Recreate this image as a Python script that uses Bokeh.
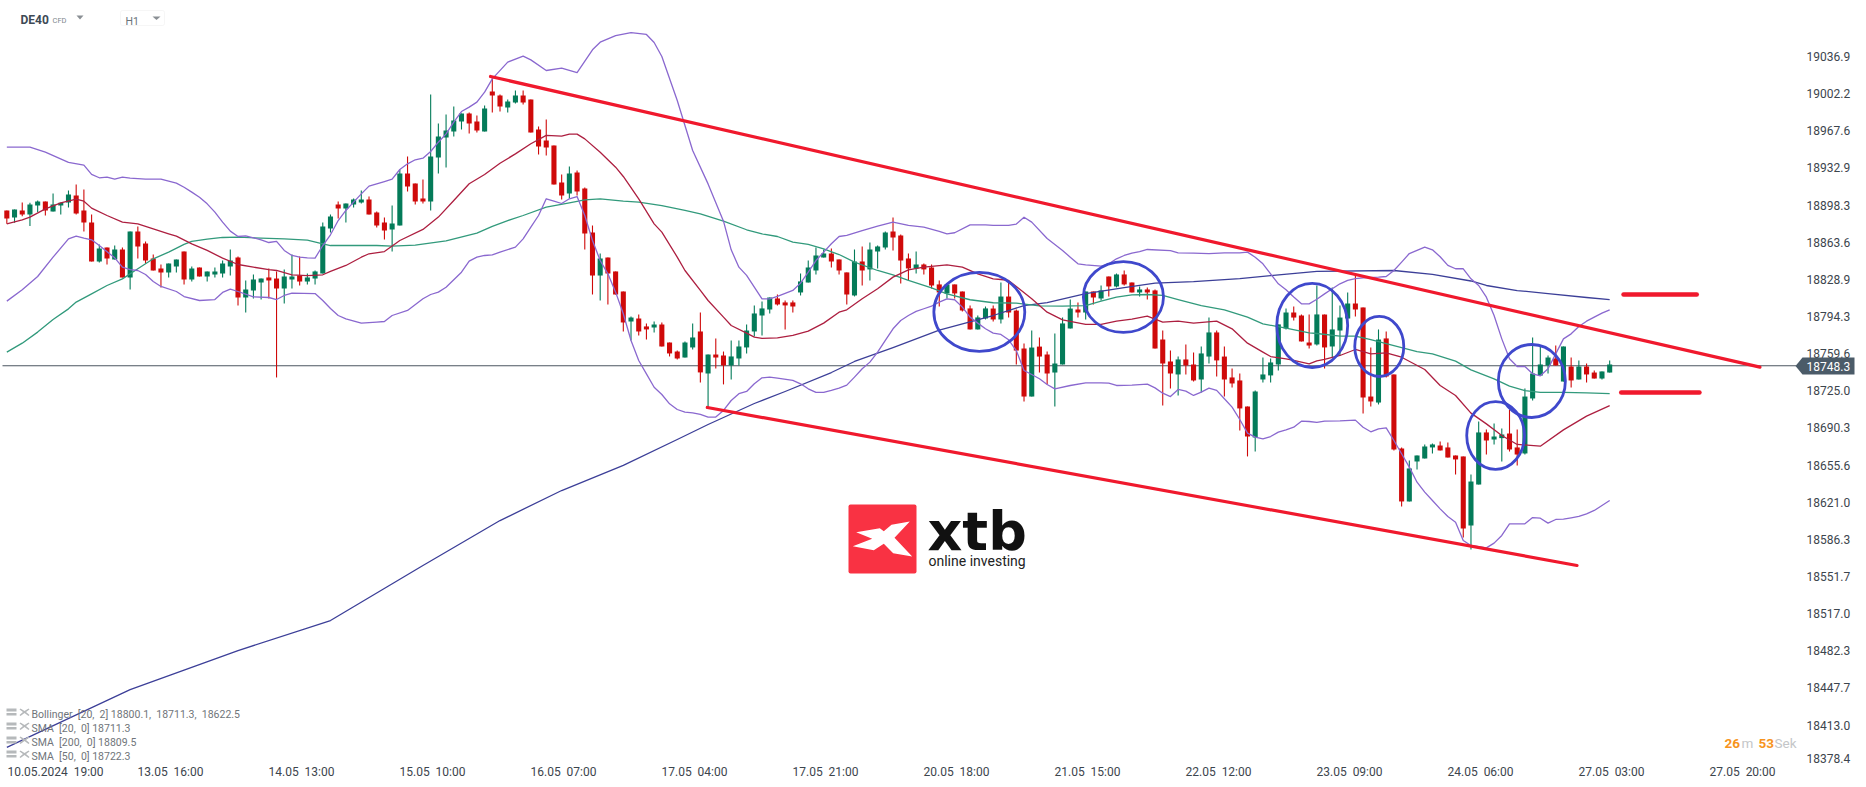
from bokeh.plotting import figure
from bokeh.embed import file_html
from bokeh.resources import INLINE
from bokeh.models import (Range1d, FixedTicker, Label, PolyAnnotation, BoxAnnotation)

opens = [18893.2,18886.6,18893.2,18889.4,18897.8,18901.6,18892.2,18897.8,18900.6,18907.2,
18893.2,18882.0,18845.6,18858.7,18847.5,18856.8,18830.7,18873.6,18862.4,18848.4,
18839.1,18835.3,18840.9,18854.9,18828.8,18840.0,18831.6,18833.5,18834.4,18840.9,
18849.3,18812.0,18818.5,18826.0,18830.7,18829.7,18820.4,18828.8,18832.5,18826.9,
18829.7,18834.4,18876.4,18898.8,18895.0,18898.8,18900.6,18903.4,18891.3,18882.0,
18875.5,18879.2,18927.7,18918.4,18904.4,18901.6,18942.6,18961.3,18966.9,18976.2,
18983.7,18976.2,18966.9,19004.2,19000.5,18989.3,18993.9,19000.5,18996.7,18968.8,
18958.5,18953.8,18919.3,18909.0,18928.6,18913.7,18872.7,18832.5,18849.3,18836.3,
18817.6,18789.6,18792.4,18785.0,18784.0,18786.8,18770.0,18761.6,18756.0,18765.4,
18780.3,18741.1,18758.8,18757.9,18748.6,18755.1,18765.4,18780.3,18795.2,18800.8,
18811.1,18807.4,18807.4,18816.7,18826.0,18837.2,18849.3,18853.1,18847.5,18835.4,
18813.9,18845.6,18838.2,18854.9,18858.7,18873.6,18869.9,18848.4,18839.1,18842.8,
18840.0,18824.2,18815.8,18824.2,18817.6,18801.8,18782.2,18792.4,18801.7,18791.5,
18812.9,18799.8,18764.4,18719.6,18766.2,18758.8,18742.0,18749.5,18783.1,18800.8,
18798.0,18817.6,18811.1,18831.6,18822.3,18833.5,18826.0,18816.7,18819.5,18818.6,
18772.8,18752.3,18740.2,18754.2,18749.5,18735.5,18756.9,18779.4,18756.9,18737.4,
18734.6,18710.3,18681.4,18735.5,18739.3,18749.5,18783.1,18798.0,18795.2,18770.0,
18768.2,18796.1,18766.3,18781.2,18792.4,18806.4,18802.7,18719.6,18714.0,18773.8,
18740.2,18671.1,18621.7,18659.0,18661.8,18672.1,18673.9,18672.1,18664.6,18663.7,
18599.3,18637.5,18686.1,18679.5,18680.8,18685.1,18672.1,18666.5,18717.8,18739.2,
18748.6,18755.1,18733.6,18747.6,18735.5,18747.6,18742.0,18736.4,18742.0]

highs = [18893.2,18894.1,18900.6,18900.3,18902.5,18901.6,18909.0,18900.3,18911.8,18917.4,
18912.8,18889.4,18861.5,18858.7,18860.5,18858.7,18873.6,18878.3,18864.3,18852.1,
18842.8,18843.7,18847.5,18854.9,18840.9,18840.0,18836.3,18840.0,18846.5,18856.8,
18850.3,18827.9,18833.5,18829.7,18839.1,18836.3,18838.1,18852.1,18850.3,18834.4,
18837.2,18882.0,18889.4,18901.6,18899.7,18904.4,18911.8,18906.2,18892.2,18886.6,
18897.8,18931.4,18943.6,18918.4,18922.1,19001.4,18974.4,18982.7,18990.2,18983.7,
18984.6,18981.8,18991.1,19018.2,19001.4,18996.7,19005.1,19005.1,18996.7,18971.6,
18978.1,18953.8,18926.8,18934.2,18930.5,18914.6,18879.2,18853.1,18849.3,18836.3,
18817.6,18794.3,18796.1,18787.8,18789.6,18788.7,18770.0,18762.6,18771.0,18787.8,
18798.0,18758.8,18773.8,18761.6,18771.9,18771.9,18786.8,18804.6,18808.3,18812.0,
18814.8,18809.2,18809.2,18834.4,18846.5,18858.7,18856.8,18857.7,18847.5,18835.4,
18856.8,18859.6,18863.3,18860.5,18873.6,18886.7,18870.8,18853.1,18854.9,18843.8,
18842.8,18827.9,18824.2,18824.2,18817.6,18804.6,18795.2,18803.6,18804.5,18826.0,
18826.0,18800.8,18769.1,18781.2,18774.7,18761.6,18778.4,18793.3,18810.1,18807.3,
18817.6,18817.6,18823.2,18831.6,18834.4,18837.2,18826.0,18822.3,18821.4,18819.5,
18781.2,18762.5,18756.9,18768.2,18760.7,18766.2,18793.3,18781.2,18766.2,18745.8,
18741.1,18710.3,18725.3,18756.0,18755.1,18786.9,18801.7,18803.6,18796.2,18796.2,
18823.2,18796.1,18821.3,18804.5,18816.7,18832.5,18802.7,18765.4,18782.2,18780.3,
18740.2,18672.1,18659.9,18664.6,18674.9,18675.8,18677.7,18676.7,18664.6,18663.7,
18646.9,18696.3,18688.9,18694.5,18689.8,18707.5,18688.9,18727.1,18774.7,18767.2,
18757.9,18767.2,18766.3,18756.0,18753.2,18750.4,18743.9,18743.0,18753.2]

lows = [18880.7,18881.7,18887.9,18878.6,18891.6,18888.5,18892.2,18889.4,18896.0,18889.4,
18873.6,18845.6,18844.7,18842.8,18847.5,18830.7,18819.5,18848.4,18843.7,18837.2,
18821.3,18830.7,18835.3,18824.1,18826.9,18831.6,18826.9,18830.7,18830.7,18832.5,
18804.5,18798.0,18811.1,18810.1,18811.1,18737.4,18806.4,18820.4,18823.2,18824.1,
18824.1,18834.4,18872.7,18885.7,18882.0,18896.0,18899.7,18889.4,18877.3,18866.1,
18854.9,18879.2,18910.9,18898.8,18899.7,18893.2,18927.7,18933.3,18962.2,18968.8,
18965.0,18966.0,18966.9,18984.6,18985.5,18984.6,18993.0,18992.1,18966.0,18945.4,
18944.5,18917.4,18903.4,18904.4,18907.2,18856.8,18814.8,18809.2,18805.5,18814.8,
18780.3,18771.9,18776.6,18772.8,18779.4,18766.3,18757.0,18754.2,18756.0,18763.5,
18732.7,18708.5,18745.8,18730.9,18735.5,18748.6,18759.8,18775.6,18776.6,18797.1,
18804.6,18782.2,18798.0,18813.9,18826.0,18833.5,18849.3,18840.0,18833.5,18805.5,
18813.0,18823.2,18827.9,18839.1,18856.8,18855.9,18825.1,18827.9,18834.4,18833.5,
18820.4,18803.6,18811.1,18811.1,18799.0,18782.2,18782.2,18791.5,18789.6,18787.8,
18793.3,18749.5,18715.0,18719.6,18742.0,18730.8,18710.3,18749.5,18783.1,18793.3,
18791.5,18805.5,18809.2,18812.9,18821.4,18823.2,18816.7,18812.9,18810.1,18764.4,
18711.2,18727.1,18720.6,18740.2,18733.6,18723.4,18750.4,18738.3,18719.6,18728.1,
18688.0,18663.7,18668.4,18732.7,18732.7,18743.9,18782.2,18790.5,18771.0,18764.4,
18767.2,18745.8,18756.0,18757.9,18792.4,18794.3,18703.8,18710.3,18712.2,18737.4,
18669.3,18617.0,18621.7,18651.5,18661.8,18666.5,18669.3,18662.7,18646.9,18588.1,
18576.9,18637.5,18665.5,18674.9,18659.0,18668.3,18655.3,18665.5,18715.9,18739.2,
18741.1,18748.6,18733.6,18728.0,18735.5,18732.7,18736.4,18735.5,18742.0]

closes = [18885.7,18894.1,18889.4,18898.8,18901.6,18893.2,18898.8,18900.3,18908.1,18890.4,
18882.0,18845.6,18857.7,18848.4,18856.8,18830.7,18873.6,18859.6,18846.5,18837.2,
18835.3,18843.7,18847.5,18828.8,18839.1,18831.6,18836.3,18836.3,18843.7,18846.5,
18812.0,18819.5,18828.8,18829.7,18827.9,18820.4,18831.6,18831.6,18826.9,18830.7,
18836.3,18878.3,18887.6,18895.0,18899.7,18903.4,18903.4,18889.4,18879.2,18874.5,
18881.1,18927.7,18915.6,18901.6,18901.6,18943.6,18962.2,18967.8,18977.1,18983.7,
18974.4,18967.8,18988.3,19000.5,18990.2,18994.9,19000.5,18993.9,18966.0,18952.9,
18952.0,18917.4,18907.2,18927.7,18910.9,18871.7,18832.5,18848.4,18834.4,18814.8,
18788.7,18793.3,18780.3,18782.2,18786.8,18766.3,18759.8,18755.1,18770.0,18774.7,
18742.1,18758.8,18756.0,18748.6,18757.0,18766.3,18781.2,18797.1,18801.8,18812.0,
18805.5,18804.6,18803.6,18827.0,18840.0,18851.2,18853.1,18845.6,18837.2,18814.8,
18845.6,18837.2,18856.8,18859.6,18872.7,18868.0,18846.5,18839.1,18842.8,18838.2,
18823.2,18816.7,18824.2,18815.8,18799.9,18782.2,18793.4,18801.8,18791.5,18812.9,
18798.0,18762.5,18719.6,18765.3,18756.9,18741.1,18750.4,18787.8,18801.7,18798.0,
18817.6,18812.0,18818.6,18822.3,18833.5,18824.2,18816.7,18819.5,18816.7,18764.4,
18750.4,18741.1,18754.2,18748.6,18734.6,18759.8,18779.4,18753.3,18735.5,18731.8,
18708.5,18682.3,18724.3,18740.2,18751.4,18786.9,18798.0,18793.3,18771.0,18767.2,
18796.2,18765.4,18782.2,18793.3,18806.4,18800.8,18718.7,18715.0,18772.8,18738.3,
18670.2,18621.7,18652.5,18664.6,18673.0,18674.9,18669.3,18662.7,18660.9,18596.5,
18640.3,18686.1,18678.6,18682.3,18684.2,18670.2,18665.5,18719.6,18741.1,18749.5,
18756.0,18748.6,18766.3,18734.6,18747.6,18740.2,18736.4,18743.0,18749.5]

bb_upper = [(0,18952.3),(3,18952.3),(5,18947.6),(8,18938.0),(10,18935.5),(11,18926.8),(12,18923.7),(13,18924.3),(14,18922.4),(15,18924.3),(16,18923.3),(18,18922.4),(20,18922.4),(21,18920.5),(22,18918.7),(23,18914.9),(24,18910.3),(25,18905.6),(26,18899.4),(27,18891.6),(28,18882.3),(29,18873.9),(30,18868.9),(31,18869.5),(32,18867.7),(33,18865.8),(34,18863.3),(35,18864.3),(36,18855.9),(37,18851.2),(38,18849.6),(39,18849.0),(40,18848.7),(41,18860.5),(42,18870.5),(43,18883.8),(44,18893.2),(45,18901.0),(46,18908.7),(47,18915.9),(48,18918.1),(49,18920.2),(50,18922.4),(51,18931.4),(52,18936.7),(53,18940.5),(54,18942.0),(55,18948.2),(56,18956.9),(57,18964.7),(58,18975.6),(59,18985.5),(60,18989.6),(61,18994.3),(62,19003.6),(63,19016.0),(65,19031.6),(67,19037.2),(68,19033.7),(70,19023.8),(72,19026.0),(74,19021.9),(76,19043.1),(77,19050.2),(79,19056.4),(81,19059.2),(83,19057.4),(84,19049.9),(85,19036.9),(87,18995.8),(89,18949.2),(91,18918.0),(93,18883.2),(94,18856.5),(95,18840.3),(96,18832.6),(97,18821.7),(98,18810.8),(99,18810.8),(100,18813.0),(102,18818.6),(103,18825.4),(104,18835.7),(105,18846.5),(106,18854.3),(107,18862.1),(108,18868.9),(109,18869.9),(111,18874.5),(113,18878.6),(115,18882.3),(117,18879.2),(119,18877.6),(121,18873.6),(122,18871.4),(123,18872.4),(125,18879.8),(127,18879.8),(128,18879.2),(130,18879.2),(131,18880.5),(132,18886.9),(133,18882.3),(135,18867.0),(137,18855.9),(138,18849.6),(139,18843.4),(140,18842.5),(142,18841.2),(143,18843.4),(144,18848.1),(145,18851.2),(146,18853.4),(147,18854.9),(148,18856.8),(151,18855.8),(152,18853.7),(154,18853.4),(156,18853.0),(158,18853.7),(160,18853.7),(161,18854.3),(162,18849.6),(163,18843.4),(164,18834.1),(165,18824.8),(166,18819.2),(167,18812.4),(168,18806.1),(169,18806.1),(170,18810.4),(171,18815.4),(172,18820.1),(173,18824.8),(174,18827.9),(175,18829.7),(176,18830.4),(178,18831.0),(179,18831.6),(180,18837.2),(181,18845.0),(182,18853.0),(184,18859.0),(185,18856.5),(186,18850.0),(187,18842.0),(188,18838.8),(189,18838.8),(190,18829.4),(191,18823.2),(192,18812.3),(193,18795.2),(194,18773.4),(195,18754.8),(196,18747.6),(197,18747.6),(198,18740.8),(199,18738.9),(200,18745.5),(201,18759.4),(202,18773.4),(203,18778.1),(204,18785.0),(205,18789.9),(206,18793.7),(207,18797.4),(208,18800.5)]

bb_lower = [(0,18808.6),(2,18819.2),(4,18831.6),(6,18849.6),(8,18866.7),(9,18869.2),(10,18867.4),(11,18865.8),(12,18860.5),(14,18849.0),(15,18840.3),(16,18838.1),(17,18837.2),(18,18833.5),(19,18826.9),(20,18822.3),(22,18817.6),(23,18812.9),(25,18809.2),(27,18810.1),(28,18816.7),(29,18819.8),(30,18817.6),(32,18812.6),(34,18812.0),(35,18810.1),(36,18813.9),(37,18816.1),(40,18815.7),(41,18809.2),(42,18801.7),(43,18795.2),(44,18792.1),(46,18788.1),(48,18789.0),(49,18789.6),(50,18795.2),(52,18799.9),(54,18810.8),(55,18814.8),(56,18817.0),(57,18821.6),(59,18835.6),(60,18845.9),(61,18849.6),(62,18851.2),(63,18851.8),(64,18854.3),(66,18859.0),(67,18866.7),(68,18877.6),(69,18888.5),(70,18904.1),(71,18901.9),(72,18899.7),(73,18904.1),(74,18906.2),(75,18888.5),(76,18865.2),(77,18846.5),(78,18834.1),(79,18817.0),(80,18796.8),(81,18771.9),(82,18753.2),(83,18740.8),(84,18728.3),(85,18721.5),(86,18712.8),(87,18707.5),(88,18705.0),(89,18704.4),(90,18702.9),(91,18700.4),(92,18700.4),(93,18706.6),(94,18715.9),(95,18722.2),(96,18724.3),(97,18731.5),(98,18737.1),(99,18737.7),(100,18736.8),(102,18734.6),(103,18731.5),(104,18726.8),(105,18723.4),(106,18723.4),(107,18725.3),(108,18727.4),(109,18730.2),(110,18737.7),(111,18745.5),(112,18751.7),(113,18761.0),(114,18771.9),(115,18782.8),(116,18790.6),(117,18795.2),(118,18799.0),(119,18801.5),(120,18803.9),(121,18807.7),(122,18810.8),(123,18809.9),(124,18803.0),(125,18793.7),(126,18788.1),(127,18782.8),(128,18778.8),(129,18777.5),(130,18772.5),(131,18762.5),(132,18743.9),(133,18740.2),(134,18736.2),(135,18730.8),(136,18726.8),(138,18729.9),(140,18732.4),(142,18732.4),(143,18732.1),(144,18729.9),(146,18730.2),(148,18731.2),(149,18727.7),(150,18722.7),(151,18719.6),(152,18726.2),(153,18724.6),(154,18720.6),(155,18723.7),(156,18727.4),(157,18725.3),(158,18717.5),(159,18709.7),(160,18698.2),(161,18685.4),(162,18681.7),(163,18680.2),(164,18682.3),(165,18686.4),(166,18688.5),(167,18691.0),(168,18696.6),(169,18696.3),(170,18695.4),(171,18696.6),(173,18696.9),(175,18697.6),(176,18691.0),(177,18686.7),(178,18689.5),(179,18690.4),(180,18678.6),(181,18666.2),(182,18653.7),(183,18639.7),(184,18630.4),(185,18622.6),(186,18614.8),(187,18607.7),(188,18602.4),(189,18585.3),(190,18580.6),(192,18578.4),(193,18582.8),(194,18590.0),(195,18600.8),(197,18600.8),(198,18606.7),(199,18606.1),(200,18601.5),(201,18604.9),(202,18605.2),(203,18606.4),(204,18607.7),(205,18610.2),(206,18613.3),(207,18617.9),(208,18622.6)]

sma20 = [(0,18880.7),(2,18884.5),(3,18887.0),(5,18894.7),(7,18900.3),(9,18903.8),(10,18901.9),(11,18895.4),(13,18888.5),(15,18882.3),(17,18880.7),(19,18876.1),(21,18871.4),(22,18869.2),(24,18862.1),(26,18855.9),(28,18848.7),(30,18842.8),(32,18840.3),(34,18838.1),(35,18837.2),(37,18833.2),(39,18832.5),(41,18833.2),(42,18836.3),(44,18841.9),(46,18849.6),(47,18852.8),(49,18854.9),(51,18865.2),(54,18875.5),(56,18887.0),(58,18902.5),(60,18918.1),(62,18926.8),(64,18937.3),(66,18946.0),(68,18955.4),(70,18963.2),(72,18962.5),(73,18964.4),(74,18964.4),(75,18960.0),(77,18947.6),(79,18933.6),(80,18924.9),(82,18904.1),(84,18880.7),(85,18873.0),(87,18849.7),(88,18837.2),(90,18818.6),(91,18809.2),(93,18793.7),(94,18785.9),(96,18778.8),(97,18775.0),(98,18773.8),(100,18774.4),(102,18776.6),(104,18780.6),(106,18788.1),(108,18798.3),(109,18800.5),(111,18810.8),(113,18820.1),(115,18831.0),(117,18837.8),(119,18840.3),(122,18842.5),(124,18840.3),(126,18834.1),(128,18829.4),(129,18828.8),(130,18827.9),(131,18822.3),(133,18810.8),(135,18798.3),(137,18791.2),(140,18786.9),(142,18786.9),(144,18790.0),(146,18791.8),(148,18794.6),(150,18789.0),(152,18790.0),(154,18788.1),(157,18790.0),(159,18782.8),(161,18769.4),(163,18761.0),(164,18756.9),(166,18754.8),(167,18753.3),(169,18750.1),(170,18752.9),(171,18754.2),(173,18757.9),(175,18763.5),(177,18759.4),(179,18760.4),(181,18756.3),(184,18744.8),(186,18729.9),(188,18720.6),(190,18704.1),(192,18694.1),(194,18683.3),(196,18674.9),(199,18673.3),(202,18688.5),(205,18701.3),(208,18711.2)]

sma50 = [(0,18761.0),(2,18769.4),(4,18779.7),(6,18791.5),(8,18801.4),(9,18807.7),(11,18815.4),(13,18823.2),(15,18829.4),(17,18838.8),(19,18848.1),(21,18854.3),(23,18861.5),(24,18864.3),(26,18866.4),(28,18868.0),(30,18868.3),(33,18867.4),(36,18866.7),(39,18865.5),(41,18862.1),(42,18860.5),(48,18860.5),(50,18859.9),(53,18860.8),(57,18864.9),(61,18872.0),(63,18878.3),(65,18883.8),(67,18888.5),(70,18896.3),(73,18900.3),(75,18903.1),(77,18904.1),(80,18901.9),(82,18901.0),(85,18897.8),(88,18893.2),(90,18890.1),(93,18883.2),(96,18875.2),(98,18871.4),(100,18868.9),(102,18863.7),(104,18861.5),(106,18857.4),(108,18852.1),(110,18845.0),(113,18837.2),(115,18833.2),(117,18827.9),(120,18821.0),(122,18815.4),(125,18809.9),(128,18807.1),(131,18806.7),(134,18804.2),(137,18803.9),(140,18804.5),(142,18808.6),(144,18812.3),(146,18814.5),(148,18814.8),(150,18813.9),(152,18810.1),(155,18804.5),(158,18800.5),(161,18793.6),(163,18787.4),(166,18783.4),(169,18779.0),(170,18778.4),(173,18775.9),(175,18775.9),(177,18772.8),(180,18767.2),(183,18761.6),(185,18759.4),(188,18752.6),(190,18744.5),(193,18736.1),(195,18729.3),(197,18725.2),(199,18723.4),(202,18723.4),(205,18723.1),(208,18722.4)]

sma200 = [(0,18392.2),(16,18446.2),(30,18482.6),(42,18510.6),(54,18562.0),(64,18603.9),(72,18631.9),(80,18655.3),(87,18679.5),(91,18693.5),(97,18713.1),(101,18724.3),(107,18742.0),(110,18752.3),(115,18765.3),(121,18781.6),(128,18795.2),(132,18804.5),(135,18807.3),(140,18815.7),(145,18821.3),(149,18825.5),(154,18826.9),(160,18829.7),(164,18832.5),(170,18836.3),(180,18837.2),(185,18833.5),(190,18827.4),(192,18823.2),(196,18818.5),(200,18815.7),(205,18812.0),(208,18810.1)]

trend_upper = [(62.77,19018.2),(227.5,18747.0)]
trend_lower = [(90.9,18709.4),(203.76,18562.0)]
level_upper = [(209.8,18814.8),(219.3,18814.8)]
level_lower = [(209.5,18723.4),(219.65,18723.4)]
# centre bar, width in bars, centre price, height in price
circles = [(126.2,11.8,18798.5,73.7),(144.9,10.4,18812.5,66.2),(169.4,9.2,18785.9,78.4),
           (178.1,6.36,18766.3,56.0),(193.2,7.5,18683.2,63.4),(197.9,8.7,18734.1,68.1)]

last_price = 18748.3
y_tick_labels = ["19036.9","19002.2","18967.6","18932.9","18898.3","18863.6","18828.9","18794.3","18759.6","18725.0",
                 "18690.3","18655.6","18621.0","18586.3","18551.7","18517.0","18482.3","18447.7","18413.0","18378.4"]
NB = "\u00a0"
x_tick_labels = [s.replace("  ", NB + NB) for s in
                 ["10.05.2024  19:00","13.05  16:00","14.05  13:00","15.05  10:00","16.05  07:00","17.05  04:00","17.05  21:00",
                  "20.05  18:00","21.05  15:00","22.05  12:00","23.05  09:00","24.05  06:00","27.05  03:00","27.05  20:00"]]
x_tick_bars = [6.32,21.24,38.24,55.24,72.24,89.24,106.24,123.24,140.24,157.24,174.24,191.24,208.24,225.24]
legend_rows = [s.replace("  ", NB + NB) for s in
               ["Bollinger  [20,  2] 18800.1,  18711.3,  18622.5","SMA  [20,  0] 18711.3","SMA  [200,  0] 18809.5","SMA  [50,  0] 18722.3"]]

BAR0, BARW = 6.33, 7.706      # page pixel of bar 0, pixels per bar
PRICE0, PRICEPX = 19089.1, 0.933   # price at page y=0, price per pixel
def bar_of(px): return (px - BAR0) / BARW
def price_of(py): return PRICE0 - PRICEPX * py

UP, DOWN = "#047b59", "#cf0a0a"
TXT = "#3c454d"
FONT = "Roboto"

p = figure(width=1862, height=785, output_backend="svg", toolbar_location=None,
           x_range=Range1d(bar_of(0), bar_of(1860)), y_range=Range1d(price_of(762), price_of(0)),
           y_axis_location="right", min_border_left=0, min_border_top=0,
           min_border_right=2, min_border_bottom=23, outline_line_color=None,
           background_fill_color="white", border_fill_color="white")
p.grid.visible = False

def style_axis(ax):
    ax.axis_line_color = None
    ax.major_tick_line_color = None
    ax.minor_tick_line_color = None
    ax.major_tick_out = 0
    ax.major_tick_in = 0
    ax.major_label_text_font = FONT
    ax.major_label_text_font_size = "12px"
    ax.major_label_text_color = TXT

y_ticks = [float(s) for s in y_tick_labels]
y_ticks[-1] = 18382.1
p.yaxis.ticker = FixedTicker(ticks=y_ticks)
p.yaxis.major_label_overrides = dict(zip(y_ticks, y_tick_labels))
p.yaxis.major_label_standoff = -54
style_axis(p.yaxis[0])
p.xaxis.ticker = FixedTicker(ticks=x_tick_bars)
p.xaxis.major_label_overrides = dict(zip(x_tick_bars, x_tick_labels))
p.xaxis.major_label_standoff = 2
style_axis(p.xaxis[0])

# last price line
p.line([bar_of(2), bar_of(1796)], [last_price, last_price], line_color="#4b5660", line_width=1.2)

# candles
idx = list(range(len(opens)))
cols = [UP if c >= o else DOWN for o, c in zip(opens, closes)]
p.segment(idx, highs, idx, lows, line_color=cols, line_width=1.1)
p.vbar(idx, width=0.66, top=[max(o, c) for o, c in zip(opens, closes)],
       bottom=[min(o, c) for o, c in zip(opens, closes)], fill_color=cols, line_color=None)

def draw(series, color, w):
    p.line([a for a, _ in series], [b for _, b in series], line_color=color, line_width=w, line_join="round")

draw(sma200, "#3c3f98", 1.3)
draw(sma50, "#329a7c", 1.3)
draw(bb_upper, "#8a68cf", 1.3)
draw(bb_lower, "#8a68cf", 1.3)
draw(sma20, "#ad1f40", 1.3)

for seg, w in ((trend_upper, 3.2), (trend_lower, 3.2), (level_upper, 4.5), (level_lower, 4.5)):
    p.line([a for a, _ in seg], [b for _, b in seg], line_color="#f0192d", line_width=w, line_cap="round")

p.ellipse([c[0] for c in circles], [c[2] for c in circles], width=[c[1] for c in circles],
          height=[c[3] for c in circles], fill_color=None, line_color="#3f48cc", line_width=2.8)

def poly(pts, color):
    p.add_layout(PolyAnnotation(xs=[bar_of(a) for a, _ in pts], ys=[price_of(b) for _, b in pts],
                                fill_color=color, fill_alpha=1, line_color=None, level="overlay"))

def box(l, t, r, b, color, line=None, radius=0):
    p.add_layout(BoxAnnotation(left=bar_of(l), right=bar_of(r), top=price_of(t), bottom=price_of(b),
                               fill_color=color, fill_alpha=1, line_color=line, border_radius=radius,
                               level="overlay"))

def text(s, x, y, size, color, font=FONT, style="normal", align="left"):
    lift = 0.33 * float(size[:-2])
    p.add_layout(Label(x=bar_of(x), y=price_of(y - lift), text=s, text_font=font, text_font_size=size,
                       text_color=color, text_font_style=style, text_baseline="alphabetic",
                       text_align=align, level="overlay"))

# last price tag
poly([(1795, 365.5), (1802, 357), (1854, 357), (1854, 374), (1802, 374)], "#4b5b68")
text("18748.3", 1806, 370, "12px", "#ffffff")

# header
text("DE40", 20, 23, "12px", "#3e4a55", style="bold")
text("CFD", 52, 22.5, "7.5px", "#80878d")
poly([(76, 15), (83, 15), (79.5, 19)], "#8a8f94")
box(120, 10, 164, 25, None, line="#e2e2e2", radius=2)
text("H1", 125, 24, "10.5px", "#6a7278")
poly([(152, 16), (160, 16), (156, 19.5)], "#8a8f94")

# indicator legend
for k, row in enumerate(legend_rows):
    base = 717 + 14 * k
    text(row, 31, base, "10.5px", "#70757a")
    top = base - 9
    box(6, top, 16, top + 3, "#b6b9bb")
    box(6, top + 4.5, 16, top + 7, "#b6b9bb")
    poly([(20, top), (24, top + 2.5), (28, top), (29, top + 1), (25.5, top + 3.5), (29, top + 6.5),
          (28, top + 7.5), (24, top + 4.5), (20, top + 7.5), (19, top + 6.5), (22.5, top + 3.5), (19, top + 1)],
         "#b6b9bb")

# countdown
text("26", 1724, 747, "13.5px", "#f7941d", style="bold")
text("m", 1741, 747, "13.5px", "#c4c6c8")
text("53", 1758, 747, "13.5px", "#f7941d", style="bold")
text("Sek", 1774, 747, "13.5px", "#c4c6c8")

# logo
box(848, 504, 916, 573, "#f93243", radius=2)
poly([(855.7, 531.7), (879.3, 527.7), (883.3, 530.7), (891, 524.3), (909.3, 521), (894, 537.3), (911.7, 556),
      (892.7, 552.7), (883.3, 543.3), (873.3, 549.7), (852.3, 545.7), (871.7, 538.3)], "#ffffff")
text("xtb", 927, 549, "54px", "#111111", font="DejaVu Sans", style="bold")
text("online investing", 928, 565, "14px", "#222222")

open("out.html", "w").write(file_html(p, INLINE))
